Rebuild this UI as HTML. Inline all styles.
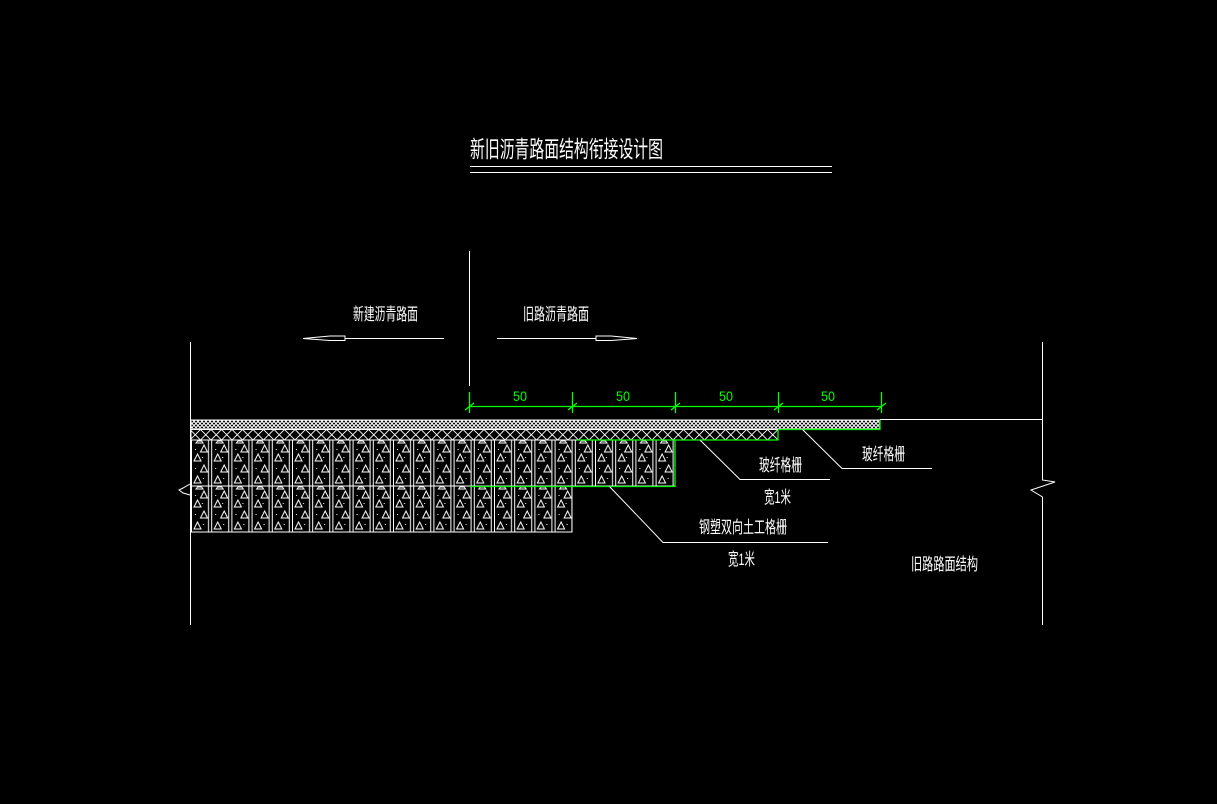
<!DOCTYPE html>
<html><head><meta charset="utf-8"><style>
html,body{margin:0;padding:0;background:#000;}
svg{display:block}
text{font-family:"Liberation Sans","Noto Sans CJK SC",sans-serif;fill:#fff;}
</style></head><body>
<svg width="1217" height="804" viewBox="0 0 1217 804" xmlns="http://www.w3.org/2000/svg">
<defs>
<pattern id="fine" x="0" y="419.5" width="4" height="4" patternUnits="userSpaceOnUse">
<path d="M0 0L4 4M4 0L0 4" stroke="#fff" stroke-width="1"/>
</pattern>
<pattern id="big" x="190" y="429.5" width="10.5" height="10.5" patternUnits="userSpaceOnUse">
<path d="M0 0L10.5 10.5M10.5 0L0 10.5" stroke="#fff" stroke-width="0.9"/>
</pattern>
<pattern id="cell" x="191" y="440" width="20.2" height="46" patternUnits="userSpaceOnUse">
<g stroke="#fff" stroke-width="1" fill="none">
<line x1="0.5" y1="0" x2="0.5" y2="46"/>
<line x1="17.5" y1="0" x2="17.5" y2="46"/>
<path d="M5 3L6.5 1H10.5L12 3Z"/>
<path d="M9.5 12L13 5L16.5 12Z"/>
<path d="M3 21L6.5 14L10 21Z"/>
<path d="M9.5 32L13 25L16.5 32Z"/>
<path d="M3 43L6.5 36L10 43Z"/>
</g>
<g fill="#fff"><rect x="4" y="9" width="1" height="1"/><rect x="11" y="17" width="1" height="1"/><rect x="4" y="28" width="1" height="1"/><rect x="12" y="38" width="1" height="1"/></g>
</pattern>
</defs>

<text x="470" y="157" font-size="23" textLength="193" lengthAdjust="spacingAndGlyphs">新旧沥青路面结构衔接设计图</text>
<line x1="470" y1="166.5" x2="832" y2="166.5" stroke="#fff"/>
<line x1="470" y1="172.5" x2="832" y2="172.5" stroke="#fff"/>

<text x="353" y="320" font-size="17" textLength="65" lengthAdjust="spacingAndGlyphs">新建沥青路面</text>
<text x="523" y="320" font-size="17" textLength="66" lengthAdjust="spacingAndGlyphs">旧路沥青路面</text>
<g stroke="#fff" fill="none" stroke-width="1">
<line x1="469.5" y1="251" x2="469.5" y2="386"/>
<line x1="345" y1="338.5" x2="444" y2="338.5"/>
<path d="M303 338.5L330 336H345V340.5H330Z"/>
<line x1="497" y1="338.5" x2="596" y2="338.5"/>
<path d="M637 338.5L611 336H596V340.5H611Z"/>
<line x1="190.5" y1="342" x2="190.5" y2="625"/>
<path d="M1042.5 342V480L1055 482L1031 490L1042.5 497V625"/>
<path d="M190 484L183 488L179 490L183 493L190 495"/>
<line x1="880" y1="419.5" x2="1042" y2="419.5"/>
</g>

<rect x="191" y="420" width="689" height="9.5" fill="url(#fine)" stroke="#fff" stroke-width="1"/>
<rect x="191" y="429.5" width="587" height="10.5" fill="url(#big)" stroke="#fff" stroke-width="1"/>
<rect x="191" y="440" width="484" height="46" fill="url(#cell)" stroke="#fff" stroke-width="1"/>
<rect x="191" y="486" width="381" height="46" fill="url(#cell)" stroke="#fff" stroke-width="1"/>

<g stroke="#0f0" stroke-width="1.3" fill="none">
<polyline points="778,429.5 880,429.5 880,420"/>
<polyline points="577,440 778,440 778,430"/>
<polyline points="470,486.5 675,486.5 675,440"/>
<line x1="469" y1="406.5" x2="881" y2="406.5"/>
<line x1="469.5" y1="392" x2="469.5" y2="413"/>
<line x1="572.5" y1="392" x2="572.5" y2="413"/>
<line x1="675.5" y1="392" x2="675.5" y2="413"/>
<line x1="778.5" y1="392" x2="778.5" y2="413"/>
<line x1="881.5" y1="392" x2="881.5" y2="413"/>
<path d="M465 410L474 403M568 410L577 403M671 410L680 403M774 410L783 403M877 410L886 403"/>
</g>
<g font-size="14">
<text x="513" y="401" style="fill:#0f0" textLength="14" lengthAdjust="spacingAndGlyphs">50</text>
<text x="616" y="401" style="fill:#0f0" textLength="14" lengthAdjust="spacingAndGlyphs">50</text>
<text x="719" y="401" style="fill:#0f0" textLength="14" lengthAdjust="spacingAndGlyphs">50</text>
<text x="821" y="401" style="fill:#0f0" textLength="14" lengthAdjust="spacingAndGlyphs">50</text>
</g>

<g stroke="#fff" stroke-width="1" fill="none">
<polyline points="700,440 740,479.5 830,479.5"/>
<polyline points="802,429 842,468.5 932,468.5"/>
<polyline points="609,486 663,542.5 828,542.5"/>
</g>
<text x="759" y="471" font-size="17" textLength="43" lengthAdjust="spacingAndGlyphs">玻纤格栅</text>
<text x="764" y="503" font-size="17" textLength="27" lengthAdjust="spacingAndGlyphs">宽1米</text>
<text x="862" y="460" font-size="17" textLength="43" lengthAdjust="spacingAndGlyphs">玻纤格栅</text>
<text x="699" y="533" font-size="17" textLength="88" lengthAdjust="spacingAndGlyphs">钢塑双向土工格栅</text>
<text x="728" y="565" font-size="17" textLength="27" lengthAdjust="spacingAndGlyphs">宽1米</text>
<text x="911" y="570" font-size="17" textLength="67" lengthAdjust="spacingAndGlyphs">旧路路面结构</text>
</svg>
</body></html>
